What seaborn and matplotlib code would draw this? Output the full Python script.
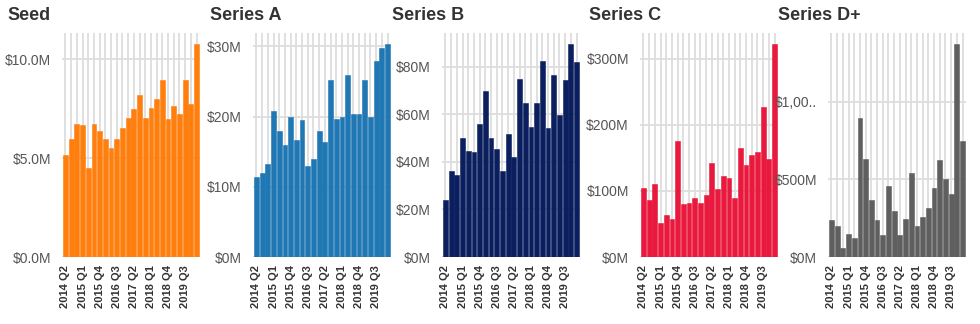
import matplotlib
matplotlib.use("Agg")
import matplotlib.pyplot as plt
import seaborn as sns
import pandas as pd

quarters = [f"{y} Q{q}" for y in range(2014, 2021) for q in range(1, 5)][1:25]

seed = [5.15, 5.98, 6.72, 6.66, 4.49, 6.72, 6.37, 5.98, 5.51, 5.98, 6.5, 7.03,
        7.5, 8.19, 7.03, 7.55, 7.97, 8.95, 6.98, 7.62, 7.21, 8.95, 7.72, 10.79]
series_a = [11.4, 11.9, 13.2, 20.8, 17.9, 15.9, 20.0, 16.7, 19.5, 12.9, 13.9, 17.9,
            16.4, 25.2, 19.6, 19.9, 25.9, 20.4, 20.4, 25.2, 19.9, 28.0, 29.8, 30.4]
series_b = [23.9, 36.3, 34.6, 49.9, 44.4, 43.9, 55.8, 69.6, 49.9, 45.4, 36.0, 51.8,
            42.0, 74.9, 64.5, 54.6, 64.5, 82.3, 54.2, 76.6, 59.7, 74.4, 89.6, 81.7]
series_c = [105, 87, 110, 52, 64, 58, 175, 80, 82, 89, 82, 94,
            142, 103, 123, 119, 89, 165, 140, 155, 159, 227, 149, 323]
series_d = [236, 198, 58, 146, 125, 896, 634, 366, 237, 140, 455, 297,
            140, 243, 539, 200, 259, 319, 446, 625, 500, 409, 1375, 746]

titles = ["Seed", "Series A", "Series B", "Series C", "Series D+"]
colors = ["#FF7F0E", "#1F77B4", "#0B1F5E", "#E8193C", "#5F5F5F"]
yticks = [[0, 5, 10], [0, 10, 20, 30], [0, 20, 40, 60, 80], [0, 100, 200, 300], [0, 500, 1000]]
ylabels = [["$0.0M", "$5.0M", "$10.0M"], ["$0M", "$10M", "$20M", "$30M"],
           ["$0M", "$20M", "$40M", "$60M", "$80M"], ["$0M", "$100M", "$200M", "$300M"],
           ["$0M", "$500M", "$1,00.."]]
series = [seed, series_a, series_b, series_c, series_d]

sns.set_style("white")
plt.rcParams['font.family'] = ['Liberation Sans', 'DejaVu Sans']

W, H = 980, 324
fig = plt.figure(figsize=(W / 100, H / 100), dpi=100)

ax_lefts = [62, 253, 442, 640, 828]
title_x = [7, 210, 392, 589, 778]
ax_w = 138
ax_top = 33
ax_bot = 257

for i in range(5):
    ax = fig.add_axes([ax_lefts[i] / W, 1 - ax_bot / H, ax_w / W, (ax_bot - ax_top) / H])
    df = pd.DataFrame({"quarter": quarters, "value": series[i]})
    sns.barplot(data=df, x="quarter", y="value", color=colors[i], width=0.84,
                saturation=1, edgecolor=colors[i], linewidth=0.4, ax=ax, zorder=2)
    ax.set_ylim(0, max(series[i]) * 1.05)
    ax.set_xlim(-0.6, len(quarters) - 0.4)
    ax.set_yticks(yticks[i])
    ax.set_yticklabels(ylabels[i], fontsize=10, color="#555555")
    ax.set_xticks(range(len(quarters)))
    ax.set_xticklabels([q if k % 3 == 0 else "" for k, q in enumerate(quarters)],
                       rotation=90, fontsize=8, fontweight="bold", color="#333333")
    ax.tick_params(axis="x", length=0, pad=6)
    ax.tick_params(axis="y", length=0, pad=8)
    ax.grid(True, axis="both", color="#dddddd", linewidth=1.3, zorder=0)
    ax.set_axisbelow(True)
    for s in ax.spines.values():
        s.set_visible(False)
    ax.set_xlabel("")
    ax.set_ylabel("")
    fig.text(title_x[i] / W, 1 - 16 / H, titles[i], fontsize=13, fontweight="bold",
             color="#333333", ha="left", va="center")

fig.savefig("out.png", dpi=100)
